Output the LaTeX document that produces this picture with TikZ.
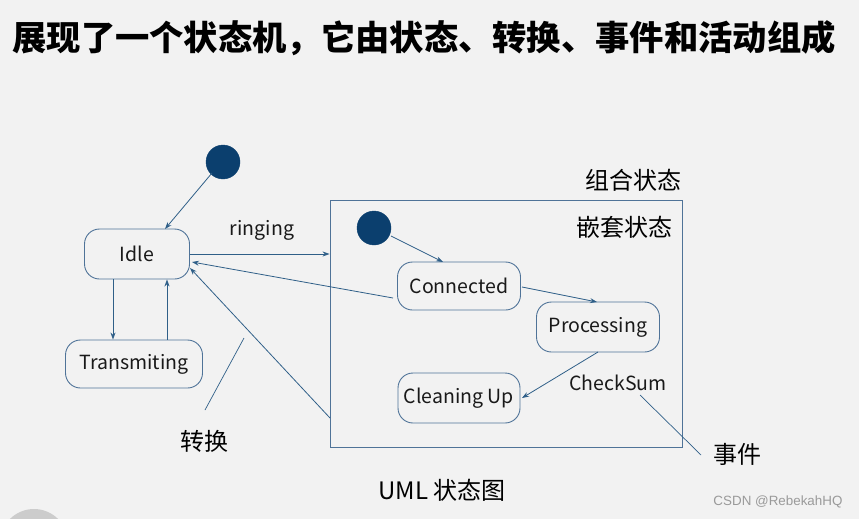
\documentclass[tikz,border=0pt]{standalone}
\usepackage{fontspec}
\setmainfont{Noto Sans CJK SC}
\newfontfamily\wmfont{Liberation Sans}
\usetikzlibrary{arrows.meta}
\definecolor{bgcol}{HTML}{F2F2F2}
\definecolor{linecol}{HTML}{2F5F88}
\definecolor{bordercol}{HTML}{4F7398}
\definecolor{dotcol}{HTML}{0B3F6E}
\definecolor{blobcol}{HTML}{CCCCCC}
\definecolor{wmcol}{HTML}{9A9A9A}
\tikzset{
  statebox/.style={draw=bordercol, line width=0.9pt, fill=bgcol, rounded corners=15pt, inner sep=0pt, font=\fontsize{19.5}{22}\selectfont, text=black!90},
  initdot/.style={circle, fill=dotcol, draw=dotcol, minimum size=34pt, inner sep=0pt},
  arr/.style={draw=linecol, line width=0.8pt, -{Stealth[length=7pt,width=5pt]}},
  plain/.style={draw=linecol, line width=0.8pt},
  lbl/.style={font=\fontsize{19.5}{22}\selectfont, text=black!90, inner sep=0pt},
  cjklbl/.style={font=\fontsize{24}{28}\selectfont, text=black, inner sep=0pt},
}
\begin{document}
\begin{tikzpicture}[x=1pt,y=-1pt]
\fill[bgcol] (0,0) rectangle (859,519);
\useasboundingbox (0,0) rectangle (859,519);
\begin{scope}
\clip (0,0) rectangle (859,519);
\fill[blobcol] (34,543) circle (34);
\end{scope}

\node[font=\fontsize{34.3}{38}\selectfont\bfseries, text=black, inner sep=0pt] (title) at (424,38) {展现了一个状态机，它由状态、转换、事件和活动组成};

% left part
\node[initdot] (init1) at (223,162) {};
\node[statebox, minimum width=105pt, minimum height=50pt] (idle) at (137,254) {Idle};
\node[statebox, minimum width=137pt, minimum height=48pt] (trans) at (134,364) {Transmiting};

% composite
\node[draw=bordercol, line width=0.9pt, minimum width=352pt, minimum height=247pt, inner sep=0pt] (comp) at (506,323.5) {};
\node[cjklbl] (complbl) at (633,180) {组合状态};
\node[cjklbl] (nestlbl) at (624,227) {嵌套状态};

\node[initdot] (init2) at (374,228) {};
\node[statebox, minimum width=123pt, minimum height=48pt] (conn) at (459,286) {Connected};
\node[statebox, minimum width=123pt, minimum height=50pt] (proc) at (598,327) {Processing};
\node[statebox, minimum width=122pt, minimum height=50pt] (clean) at (459,398) {Cleaning Up};

\node[lbl] (ringing) at (262,230) {ringing};
\node[lbl] (checksum) at (618,383) {CheckSum};
\node[cjklbl] (zhuanhuan) at (204,441) {转换};
\node[cjklbl] (shijian) at (737,454) {事件};
\node[cjklbl] (uml) at (442,490) {UML 状态图};
\node[font=\wmfont\fontsize{13.4}{15}\selectfont, text=wmcol, inner sep=0pt] (wm) at (778,502) {CSDN @RebekahHQ};

% connectors
\coordinate (c1) at (212,173);
\coordinate (c2) at (165,229);
\draw[arr] (c1) -- (c2);
\draw[arr] ([xshift=-24pt]idle.south) -- ([xshift=-21pt]trans.north);
\draw[arr] ([xshift=33pt]trans.north) -- ([xshift=30pt]idle.south);
\draw[arr] (idle.east) -- (idle.east -| comp.west);
\coordinate (cs) at (393,298);
\coordinate (ie1) at (192,262);
\draw[arr] (cs) -- (ie1);
\coordinate (cw) at (330,418);
\coordinate (ie2) at (190,268);
\draw[arr] (cw) -- (ie2);
\coordinate (i2s) at (391,236);
\coordinate (cn) at (443,262);
\draw[arr] (i2s) -- (cn);
\coordinate (ce) at (522,287);
\coordinate (pn) at (597,302);
\draw[arr] (ce) -- (pn);
\coordinate (ps) at (598,352);
\coordinate (cle) at (522,398);
\draw[arr] (ps) -- (cle);
\coordinate (t1) at (244,338);
\coordinate (t2) at (205,410);
\draw[plain, line width=0.7pt] (t1) -- (t2);
\coordinate (e1) at (640,395);
\coordinate (e2) at (701,455);
\draw[plain, line width=0.7pt] (e1) -- (e2);
\end{tikzpicture}
\end{document}
